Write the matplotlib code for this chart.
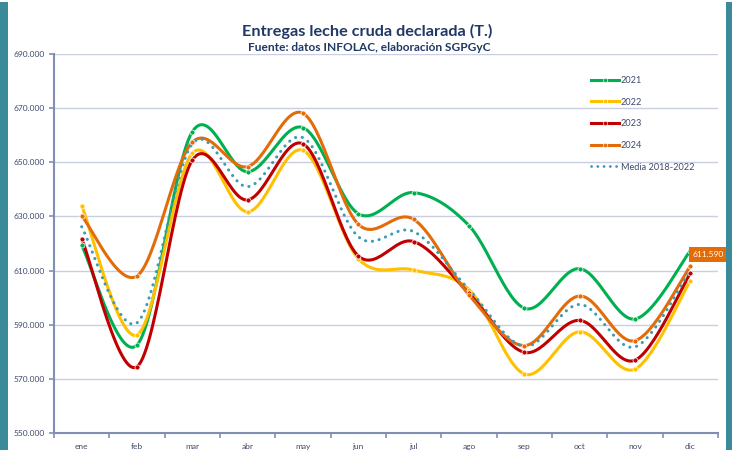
import numpy as np
import matplotlib
matplotlib.use("Agg")
import matplotlib.pyplot as plt
from matplotlib.patches import Rectangle
from matplotlib.ticker import FuncFormatter

# ---------------- data (tonnes) ----------------
months = ['ene', 'feb', 'mar', 'abr', 'may', 'jun', 'jul', 'ago', 'sep', 'oct', 'nov', 'dic']
y2021 = [619300, 582500, 661300, 646500, 662800, 631000, 638800, 626600, 596100, 610700, 592100, 617300]
y2022 = [634000, 586200, 653300, 631700, 654400, 614400, 610200, 603000, 571800, 587400, 573600, 606300]
y2023 = [621800, 574500, 650800, 636100, 656800, 615400, 620700, 601600, 579800, 591600, 576900, 609000]
y2024 = [630200, 608000, 657400, 648400, 668100, 627100, 628900, 601000, 582300, 600600, 584100, 611590]
media = [626200, 590700, 656800, 641000, 659100, 622500, 624400, 603000, 582000, 597500, 581800, 610200]
series_names = ['2021', '2022', '2023', '2024', 'Media 2018-2022']
title = 'Entregas leche cruda declarada (T.)'
subtitle = 'Fuente: datos INFOLAC, elaboración SGPGyC'
label_value = 611590

colors = ['#00B050', '#FFC000', '#C00000', '#E36C09', '#3A9BB5']
navy = '#1F3864'
tick_color = '#3F4A6B'
spine_color = '#7F8FB3'
grid_color = '#C9CEE2'
teal = '#3B8A99'

plt.rcParams['font.family'] = ['Lato', 'DejaVu Sans']


def smooth(xs, ys, n=30):
    """Excel-like smoothed line: cubic Bezier segments (Catmull-Rom tangents)."""
    xs = np.asarray(xs, float)
    ys = np.asarray(ys, float)
    P = np.column_stack([xs, ys])
    out = []
    m = len(P)
    t = np.linspace(0, 1, n)[:, None]
    for i in range(m - 1):
        p0 = P[i - 1] if i > 0 else P[i]
        p1 = P[i]
        p2 = P[i + 1]
        p3 = P[i + 2] if i + 2 < m else P[i + 1]
        b1 = p1 + (p2 - p0) / 6.0
        b2 = p2 - (p3 - p1) / 6.0
        seg = ((1 - t) ** 3) * p1 + 3 * ((1 - t) ** 2) * t * b1 + 3 * (1 - t) * t ** 2 * b2 + t ** 3 * p2
        out.append(seg if i == 0 else seg[1:])
    arr = np.vstack(out)
    return arr[:, 0], arr[:, 1]


W, H = 732, 450
fig = plt.figure(figsize=(W / 100, H / 100), dpi=100)
fig.patch.set_facecolor('white')

# teal side bars
fig.patches.append(Rectangle((0, 0), 8 / W, 1 - 2 / H, transform=fig.transFigure,
                             facecolor=teal, edgecolor='none', zorder=0))
fig.patches.append(Rectangle((726 / W, 0), 6 / W, 1 - 2 / H, transform=fig.transFigure,
                             facecolor=teal, edgecolor='none', zorder=0))

ax = fig.add_axes([54 / W, 1 - 433 / H, (718 - 54) / W, (433 - 54) / H])
ax.set_facecolor('none')

x = np.arange(len(months))
data = [y2021, y2022, y2023, y2024]
handles = []
for vals, c, name in zip(data, colors[:4], series_names[:4]):
    sx, sy = smooth(x, vals)
    ax.plot(sx, sy, color=c, lw=2.2, solid_capstyle='round', zorder=3)
    ax.plot(x, vals, linestyle='none', marker='o', ms=3.6, mfc=c, mec='white',
            mew=0.5, zorder=4)
    h, = ax.plot([], [], color=c, lw=2.2, marker='o', ms=3.0, mfc=c, mec='white',
                 mew=0.4, label=name)
    handles.append(h)

sx, sy = smooth(x, media)
ax.plot(sx, sy, color=colors[4], lw=2.2, linestyle=(0, (0.05, 2.2)),
        dash_capstyle='round', zorder=3)
h, = ax.plot([], [], color=colors[4], lw=2.0, linestyle=(0, (0.05, 2.2)),
             dash_capstyle='round', label=series_names[4])
handles.append(h)

ax.set_xlim(-0.5, 11.5)
ax.set_ylim(550000, 690000)
ax.set_yticks(np.arange(550000, 690001, 20000))
ax.yaxis.set_major_formatter(FuncFormatter(lambda v, p: f"{int(v):,}".replace(',', '.')))
ax.grid(axis='y', color=grid_color, lw=1.0, zorder=0)
ax.set_axisbelow(True)

ax.set_xticks(np.arange(-0.5, 12, 1))
ax.set_xticklabels([])
ax.set_xticks(x, minor=True)
ax.set_xticklabels(months, minor=True)
ax.tick_params(axis='x', which='major', length=3.5, width=1.2, color=spine_color, direction='out')
ax.tick_params(axis='x', which='minor', length=0, pad=7, labelsize=6.0, labelcolor=tick_color)
ax.tick_params(axis='y', length=3.5, width=1.2, color=spine_color, direction='out',
               labelsize=6.0, labelcolor=tick_color, pad=3)

for s in ['top', 'right']:
    ax.spines[s].set_visible(False)
for s in ['left', 'bottom']:
    ax.spines[s].set_color(spine_color)
    ax.spines[s].set_linewidth(1.5)

leg = ax.legend(handles=handles, loc='upper left',
                bbox_to_anchor=((591 - 54) / (718 - 54), 1 - (76 - 54) / (433 - 54)),
                frameon=False, fontsize=6.6, labelcolor=tick_color, handlelength=3.0,
                handletextpad=0.25, labelspacing=1.38, borderpad=0, borderaxespad=0,
                numpoints=1)

ax.annotate(f"{label_value:,}".replace(',', '.'), xy=(11, label_value), xytext=(1.6, 8.5),
            textcoords='offset points', ha='left', va='center', color='white',
            fontsize=6.0, zorder=6, annotation_clip=False,
            bbox=dict(boxstyle='square,pad=0.45', fc='#E36C09', ec='none'))

fig.text(367 / W, 1 - 31 / H, title, ha='center', va='center', fontsize=11.7,
         fontweight='bold', color=navy)
fig.text(369 / W, 1 - 47.5 / H, subtitle, ha='center', va='center', fontsize=8.6,
         fontweight='bold', color=navy)

fig.savefig('out.png', dpi=100, facecolor='white')
